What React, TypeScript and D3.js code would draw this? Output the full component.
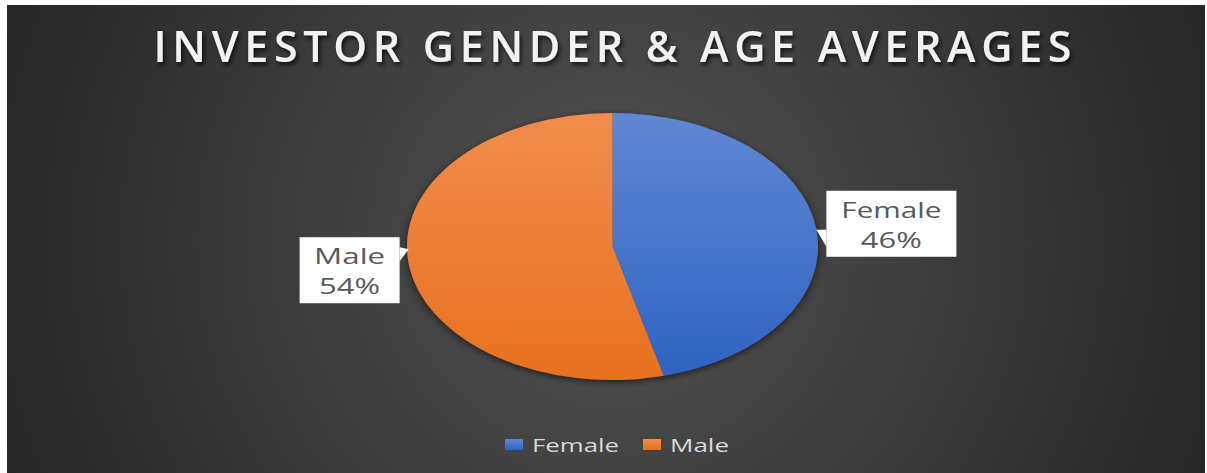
import React from "react";
import * as d3 from "d3";

const categories = ["Female", "Male"];
const values = [46, 54];
const title = "INVESTOR GENDER & AGE AVERAGES";

const W = 1207;
const H = 473;

export default function App() {
  const cx = 612.5;
  const cy = 246.5;
  const rx = 205.5;
  const ry = 133.5;
  const sx = rx / ry;

  const pie = d3
    .pie<number>()
    .sort(null)
    .value((d) => d);
  const arcs = pie(values);
  const arc = d3.arc<d3.PieArcDatum<number>>().innerRadius(0).outerRadius(ry);

  const gradIds = ["gFemale", "gMale"];
  const total = d3.sum(values);

  const labels = arcs.map((a, i) => {
    const mid = (a.startAngle + a.endAngle) / 2;
    const tx = cx + rx * Math.sin(mid);
    const ty = cy - ry * Math.cos(mid);
    const right = Math.sin(mid) > 0;
    const bw = right ? 130 : 100;
    const bh = 66;
    const bx = right ? tx + 10 : tx - 9 - bw;
    const by = right ? ty - 39 : ty - 26;
    const pct = d3.format(".0%")(values[i] / total);
    return { tx, ty, right, bx, by, bw, bh, name: categories[i], pct };
  });

  const legendItems = [
    { x: 505, tw: 87 },
    { x: 643, tw: 59 },
  ];

  return (
    <svg
      width={W}
      height={H}
      style={{ position: "absolute", left: 0, top: 0 }}
      fontFamily="'Open Sans', sans-serif"
    >
      <defs>
        <radialGradient id="bg" gradientUnits="userSpaceOnUse" cx={612} cy={240} r={640}>
          <stop offset="0" stopColor="#535353" />
          <stop offset="1" stopColor="#262626" />
        </radialGradient>
        <linearGradient id="gFemale" x1="0" y1="0" x2="0" y2="1">
          <stop offset="0" stopColor="#5f88d3" />
          <stop offset="1" stopColor="#2f63c1" />
        </linearGradient>
        <linearGradient id="gMale" x1="0" y1="0" x2="0" y2="1">
          <stop offset="0" stopColor="#f28c4c" />
          <stop offset="1" stopColor="#e8711f" />
        </linearGradient>
        <filter id="tshadow" x="-10%" y="-50%" width="120%" height="200%">
          <feDropShadow dx="2" dy="3" stdDeviation="2" floodColor="#000" floodOpacity="0.7" />
        </filter>
        <filter id="pshadow" x="-20%" y="-20%" width="140%" height="140%">
          <feDropShadow dx="0" dy="2" stdDeviation="3" floodColor="#000" floodOpacity="0.6" />
        </filter>
      </defs>
      <rect x={0} y={0} width={W} height={H} fill="#ffffff" />
      <rect x={7} y={5} width={1198} height={468} fill="url(#bg)" />

      <text
        x={cx}
        y={62}
        textAnchor="middle"
        fontSize={43}
        fontWeight={600}
        fill="#f2f2f2"
        textLength={918}
        lengthAdjust="spacing"
        filter="url(#tshadow)"
      >
        {title}
      </text>

      <g transform={`translate(${cx},${cy}) scale(${sx},1)`} filter="url(#pshadow)">
        {arcs.map((a, i) => (
          <path key={i} d={arc(a) || ""} fill={`url(#${gradIds[i]})`} />
        ))}
      </g>

      {labels.map((l, i) => {
        const pointer = l.right
          ? `M${l.bx},${l.ty} L${l.tx},${l.ty} L${l.bx},${l.ty + 17} Z`
          : `M${l.bx + l.bw},${l.ty - 16} L${l.tx},${l.ty - 14} L${l.bx + l.bw},${l.ty - 2} Z`;
        const mx = l.bx + l.bw / 2;
        return (
          <g key={i}>
            <rect x={l.bx} y={l.by} width={l.bw} height={l.bh} fill="#ffffff" />
            <path d={pointer} fill="#ffffff" />
            <text
              x={mx}
              y={l.by + 27}
              textAnchor="middle"
              fontSize={22}
              fill="#595959"
              textLength={l.right ? 100 : 71}
              lengthAdjust="spacingAndGlyphs"
            >
              {l.name}
            </text>
            <text
              x={mx}
              y={l.by + 57}
              textAnchor="middle"
              fontSize={22}
              fill="#595959"
              textLength={61}
              lengthAdjust="spacingAndGlyphs"
            >
              {l.pct}
            </text>
          </g>
        );
      })}

      {categories.map((c, i) => (
        <g key={c}>
          <rect x={legendItems[i].x} y={439} width={18} height={11} fill={`url(#${gradIds[i]})`} />
          <text
            x={legendItems[i].x + 27}
            y={452}
            fontSize={18}
            fill="#d9d9d9"
            textLength={legendItems[i].tw}
            lengthAdjust="spacingAndGlyphs"
          >
            {c}
          </text>
        </g>
      ))}
    </svg>
  );
}
